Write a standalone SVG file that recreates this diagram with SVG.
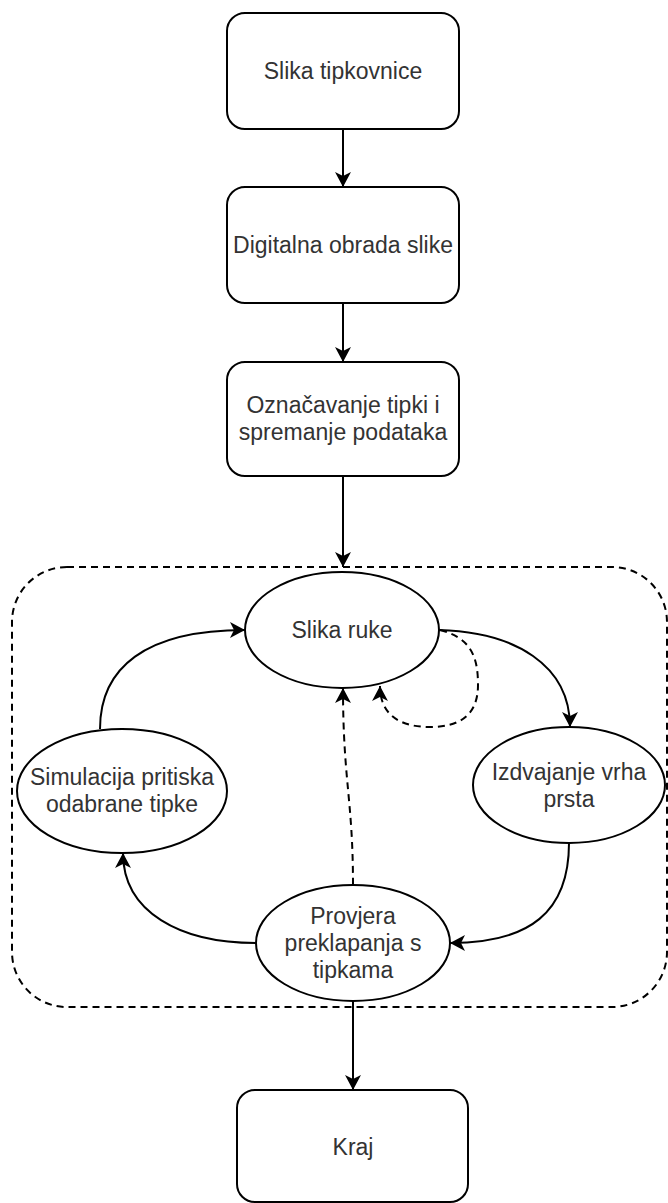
<svg xmlns="http://www.w3.org/2000/svg" width="668" height="1203" viewBox="0 0 668 1203">
<style>
.box{fill:#fff;stroke:#000;stroke-width:2}
.el{fill:#fff;stroke:#000;stroke-width:2}
.t{font-family:"Liberation Sans",Arial,sans-serif;font-size:23px;fill:#333;text-anchor:middle}
.c{fill:none;stroke:#000;stroke-width:2}
.d{fill:none;stroke:#000;stroke-width:2;stroke-dasharray:7 5}
</style>
<defs>
<marker id="arr" markerUnits="userSpaceOnUse" markerWidth="15" markerHeight="16" viewBox="0 0 15 16" refX="15" refY="8" orient="auto">
<path d="M0,0 L15,8 L0,16 L4,8 z" fill="#000"/>
</marker>
</defs>
<rect id="container" x="12" y="567" width="655" height="440" rx="55" ry="55" fill="none" stroke="#000" stroke-width="2" stroke-dasharray="7 5"/>
<g id="n1"><rect class="box" x="227" y="13" width="232" height="116" rx="18"/><text class="t" x="343" y="79">Slika tipkovnice</text></g>
<g id="n2"><rect class="box" x="227" y="187" width="232" height="116" rx="18"/><text class="t" x="343" y="253">Digitalna obrada slike</text></g>
<g id="n3"><rect class="box" x="227" y="362" width="232" height="114" rx="18"/><text class="t" x="343" y="413">Označavanje tipki i</text><text class="t" x="343" y="440">spremanje podataka</text></g>
<g id="n4"><ellipse class="el" cx="342" cy="630" rx="97" ry="58"/><text class="t" x="342" y="638">Slika ruke</text></g>
<g id="n5"><ellipse class="el" cx="569" cy="785" rx="96" ry="58"/><text class="t" x="569" y="780">Izdvajanje vrha</text><text class="t" x="569" y="807">prsta</text></g>
<g id="n6"><ellipse class="el" cx="353" cy="943" rx="97" ry="58"/><text class="t" x="353" y="924">Provjera</text><text class="t" x="353" y="951">preklapanja s</text><text class="t" x="353" y="978">tipkama</text></g>
<g id="n7"><ellipse class="el" cx="122" cy="791" rx="105" ry="62"/><text class="t" x="122" y="785">Simulacija pritiska</text><text class="t" x="122" y="812">odabrane tipke</text></g>
<g id="n8"><rect class="box" x="237" y="1090" width="231" height="112" rx="18"/><text class="t" x="353" y="1155">Kraj</text></g>
<g id="connectors">
<path class="c" d="M343,129 L343,187" marker-end="url(#arr)"/>
<path class="c" d="M343,303 L343,362" marker-end="url(#arr)"/>
<path class="c" d="M343,476 L343,567" marker-end="url(#arr)"/>
<path class="c" d="M439,630 C515,632 570,665 570,727" marker-end="url(#arr)"/>
<path class="c" d="M569,843 C569,912 530,943 450,943" marker-end="url(#arr)"/>
<path class="c" d="M256,943 C180,943 123,912 123,853" marker-end="url(#arr)"/>
<path class="c" d="M100,729 C100,668 145,630 245,630" marker-end="url(#arr)"/>
<path class="d" d="M353,885 C353,800 343,780 343,688" marker-end="url(#arr)"/>
<path class="d" d="M440,630 C470,638 478,655 478,685 C478,715 460,727 430,727 C400,727 380,715 380,686" marker-end="url(#arr)"/>
<path class="c" d="M353,1001 L353,1090" marker-end="url(#arr)"/>
</g>
</svg>
